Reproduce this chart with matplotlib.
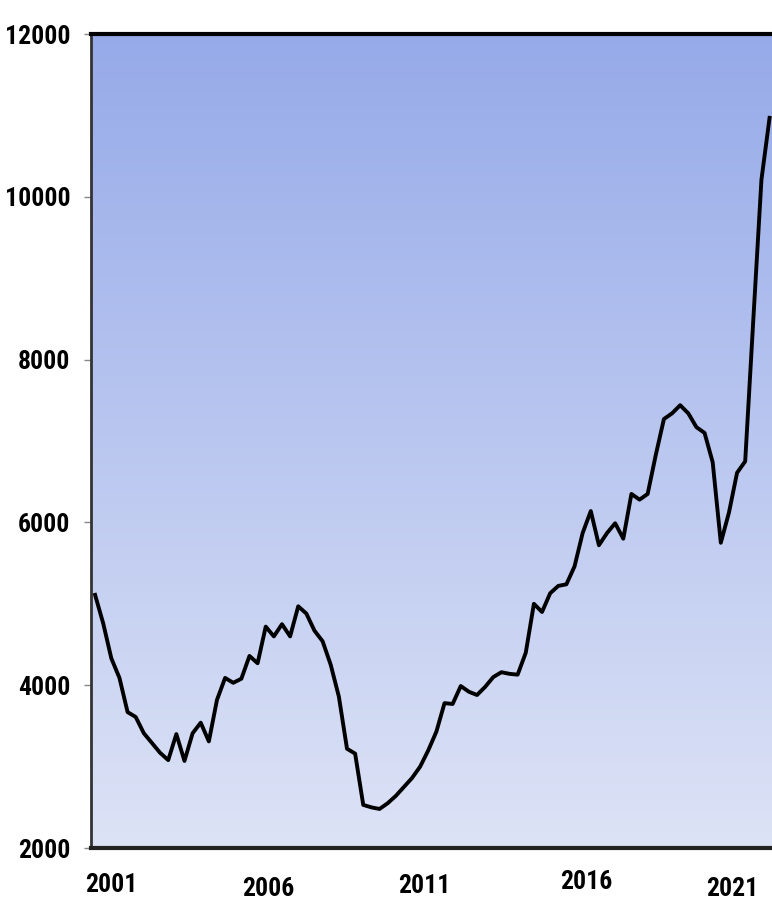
import numpy as np
import matplotlib
matplotlib.use("Agg")
import matplotlib.pyplot as plt
from matplotlib import font_manager
from matplotlib.font_manager import FontProperties
from matplotlib.colors import LinearSegmentedColormap
from matplotlib.transforms import blended_transform_factory

# quarterly series
values = [5110, 4760, 4330, 4090, 3670, 3610, 3410, 3290, 3170, 3080,
          3400, 3070, 3410, 3540, 3310, 3820, 4090, 4030, 4080, 4360,
          4270, 4720, 4600, 4750, 4600, 4970, 4880, 4670, 4540, 4250,
          3860, 3220, 3160, 2530, 2500, 2480, 2550, 2640, 2750, 2860,
          3000, 3200, 3430, 3780, 3770, 3990, 3920, 3880, 3980, 4100,
          4160, 4140, 4130, 4400, 5000, 4900, 5130, 5220, 5240, 5460,
          5870, 6140, 5720, 5870, 5990, 5800, 6350, 6280, 6350, 6830,
          7270, 7340, 7440, 7340, 7170, 7100, 6740, 5750, 6120, 6610,
          6750, 8490, 10210, 10970]
year_labels = ['2001', '2006', '2011', '2016', '2021']
year_pos = [2.0, 21.3, 40.5, 60.5, 78.4]
y_ticks = [2000, 4000, 6000, 8000, 10000, 12000]


def pick_font():
    # narrow bold font if there is one, else plain Liberation Sans bold
    fl = font_manager.fontManager.ttflist
    for name in ['Liberation Sans Narrow', 'Arial Narrow', 'Roboto Condensed',
                 'Open Sans Condensed']:
        for f in fl:
            if f.name == name and f.weight in ('bold', 700) and f.style == 'normal':
                return FontProperties(fname=f.fname), 18.5
    for f in fl:
        if f.name == 'DejaVu Sans' and f.stretch == 'condensed' and f.weight in ('bold', 700) \
                and f.style == 'normal':
            return FontProperties(fname=f.fname), 16
    return FontProperties(family='Liberation Sans', weight='bold'), 17


fp, fsize = pick_font()
fp.set_size(fsize)

fig = plt.figure(figsize=(7.72, 9.07), dpi=100)
ax = fig.add_axes([0.1179, 0.065, 0.8821, 0.8975])

# background gradient
cmap = LinearSegmentedColormap.from_list('bg', ['#dde3f6', '#96aae9'])
grad = np.linspace(0, 1, 256).reshape(-1, 1)
ax.imshow(grad, cmap=cmap, origin='lower', extent=[0, 1, 0, 1],
          transform=ax.transAxes, aspect='auto', zorder=0)

x = np.arange(len(values))
ax.plot(x, values, color='black', lw=2.8, zorder=3)

ax.set_xlim(-0.5, 83.3)
ax.set_ylim(2000, 12000)
ax.set_yticks(y_ticks)
ax.set_yticklabels([str(v) for v in y_ticks])
for lab in ax.get_yticklabels():
    lab.set_fontproperties(fp)
ax.tick_params(axis='y', length=5, width=1, color='#888888', pad=10)
ax.set_xticks([])
ax.minorticks_off()

ax.spines['right'].set_visible(False)
ax.spines['left'].set_color('#333333')
ax.spines['left'].set_linewidth(2)
ax.spines['top'].set_color('black')
ax.spines['top'].set_linewidth(3)
ax.spines['bottom'].set_color('#222222')
ax.spines['bottom'].set_linewidth(3)

# year labels, slightly staggered as in the original
tr = blended_transform_factory(ax.transData, ax.transAxes)
y_off = [-0.0455, -0.050, -0.0465, -0.0415, -0.050]
for lab, px, dy in zip(year_labels, year_pos, y_off):
    ax.text(px, dy, lab, transform=tr, ha='center', va='center',
            fontproperties=fp, clip_on=False)

fig.savefig('out.png', dpi=100)
